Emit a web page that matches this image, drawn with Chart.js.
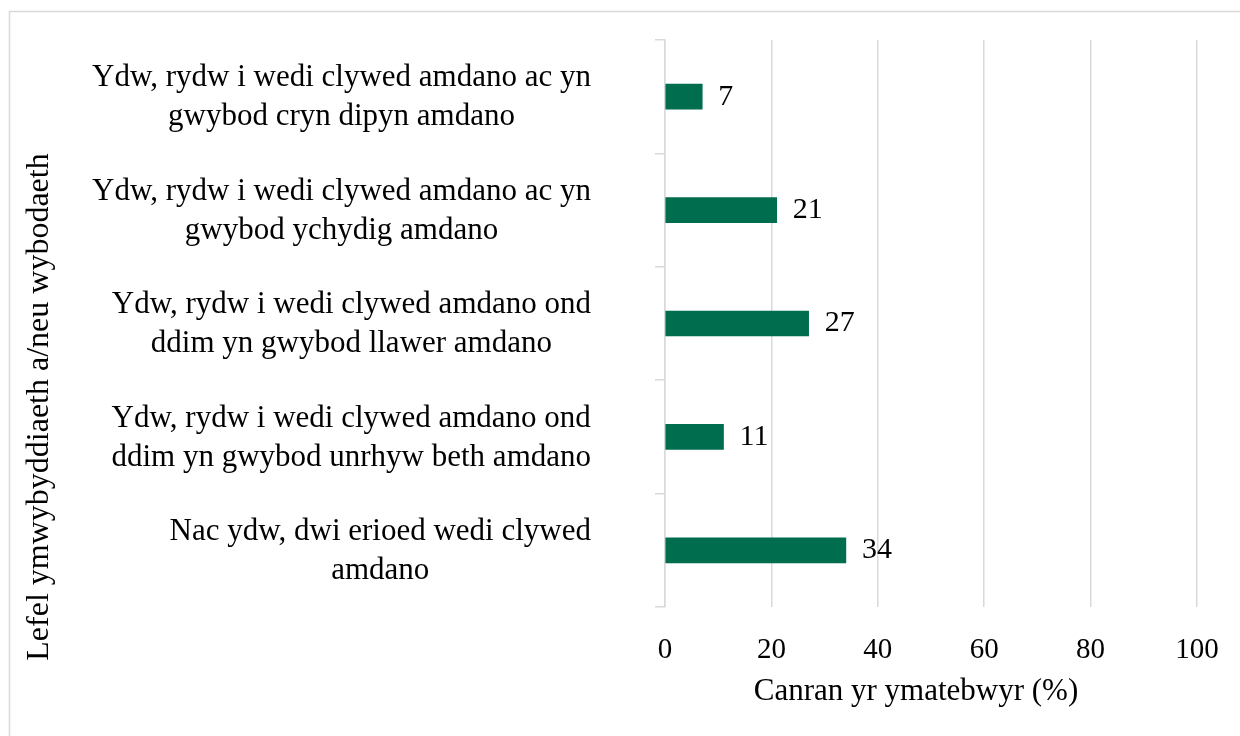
<!DOCTYPE html>
<html>
<head>
<meta charset="utf-8">
<script src="https://cdn.jsdelivr.net/npm/chart.js@4.4.0/dist/chart.umd.min.js"></script>
<style>
  html, body { margin: 0; padding: 0; background: #fff; }
  #wrap { width: 1240px; height: 736px; position: relative; }
</style>
</head>
<body>
<div id="wrap"><canvas id="chart" width="1240" height="736"></canvas></div>
<script>
// data
const categories = [
  ["Ydw, rydw i wedi clywed amdano ac yn", "gwybod cryn dipyn amdano"],
  ["Ydw, rydw i wedi clywed amdano ac yn", "gwybod ychydig amdano"],
  ["Ydw, rydw i wedi clywed amdano ond", "ddim yn gwybod llawer amdano"],
  ["Ydw, rydw i wedi clywed amdano ond", "ddim yn gwybod unrhyw beth amdano"],
  ["Nac ydw, dwi erioed wedi clywed", "amdano"]
];
const values = [7, 21, 27, 11, 34];
const xTicks = [0, 20, 40, 60, 80, 100];
const xTitle = "Canran yr ymatebwyr (%)";
const yTitle = "Lefel ymwybyddiaeth a/neu wybodaeth";

const FONT = '"Liberation Serif", "Times New Roman", serif';
const GRID = "#d9d9d9";
const BAR = "#006d4f";

// frame + titles + category labels + value labels
const extras = {
  id: "extras",
  beforeDraw(chart) {
    const ctx = chart.ctx;
    ctx.save();
    ctx.fillStyle = "#fff";
    ctx.fillRect(0, 0, chart.width, chart.height);
    ctx.strokeStyle = GRID;
    ctx.lineWidth = 1.5;
    ctx.strokeRect(9.5, 11.5, chart.width, chart.height);
    ctx.restore();
  },
  afterDraw(chart) {
    const ctx = chart.ctx;
    const ys = chart.scales.y;
    ctx.save();
    ctx.fillStyle = "#000";
    ctx.textBaseline = "middle";

    // category labels: block right-aligned, lines centred in block
    ctx.font = "31px " + FONT;
    categories.forEach((lines, i) => {
      const cy = ys.getPixelForValue(i);
      const w = Math.max(...lines.map(l => ctx.measureText(l).width));
      const cx = 591 - w / 2;
      ctx.textAlign = "center";
      lines.forEach((l, j) => {
        ctx.fillText(l, cx, cy + 1 + (j - (lines.length - 1) / 2) * 39);
      });
    });

    // value labels
    ctx.font = "30px " + FONT;
    const meta = chart.getDatasetMeta(0);
    ctx.textAlign = "left";
    meta.data.forEach((el, i) => {
      ctx.fillText(String(values[i]), el.x + 16, el.y);
    });

    // x title
    ctx.font = "31px " + FONT;
    ctx.textAlign = "center";
    ctx.fillText(xTitle, 916, 692);

    // y title
    ctx.font = "32px " + FONT;
    ctx.translate(40, 407);
    ctx.rotate(-Math.PI / 2);
    ctx.fillText(yTitle, 0, 0);
    ctx.restore();
  }
};

new Chart(document.getElementById("chart"), {
  type: "bar",
  data: {
    labels: categories,
    datasets: [{
      data: values,
      backgroundColor: BAR,
      barThickness: 25
    }]
  },
  options: {
    indexAxis: "y",
    responsive: false,
    animation: false,
    layout: { padding: { top: 40, right: 43, left: 0, bottom: 0 } },
    plugins: { legend: { display: false }, tooltip: { enabled: false } },
    scales: {
      x: {
        min: 0,
        max: 100,
        afterBuildTicks: (s) => { s.ticks = xTicks.map(v => ({ value: v })); },
        grid: { color: GRID, lineWidth: 1.5, drawTicks: false },
        border: { display: false },
        ticks: { color: "#000", font: { family: FONT, size: 29 }, padding: 26 },
        afterFit: (s) => { s.height = 129; s.paddingRight = 0; s.paddingLeft = 0; }
      },
      y: {
        offset: true,
        grid: { offset: true, drawOnChartArea: false, color: GRID, lineWidth: 1.5, tickLength: 10 },
        border: { color: GRID, width: 1.5 },
        ticks: { display: false },
        afterFit: (s) => { s.width = 665; }
      }
    }
  },
  plugins: [extras]
});
</script>
</body>
</html>
